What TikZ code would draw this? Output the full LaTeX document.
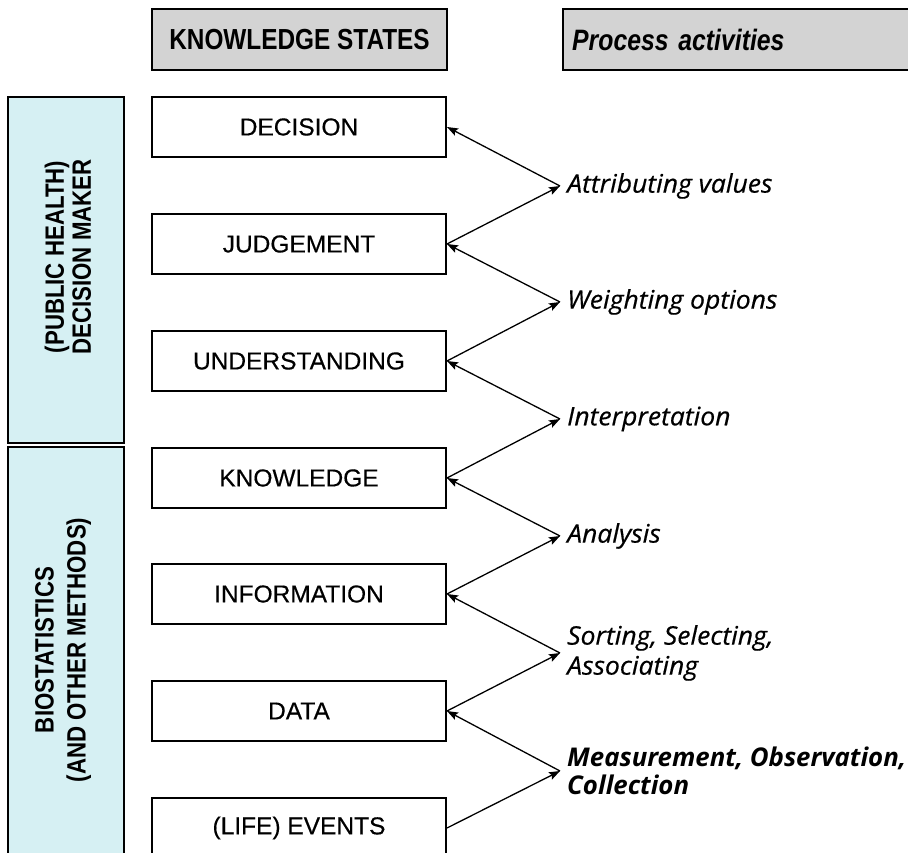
\documentclass[tikz,border=0pt]{standalone}
\usepackage{fontspec}
\setmainfont{Liberation Sans}
\newfontfamily\hdfont[FakeStretch=0.84]{Liberation Sans}
\newfontfamily\stfont[FakeBold=0.4]{Liberation Sans}
\newfontfamily\lbfont[FakeStretch=1.04,FakeBold=0.5]{Open Sans}
\newfontfamily\lbbfont[FakeStretch=1.0]{Open Sans}
\usetikzlibrary{arrows.meta}
\definecolor{hdgray}{HTML}{D3D3D3}
\definecolor{barcyan}{HTML}{D6F0F3}
\tikzset{
  header/.style={draw=black, line width=2.4pt, fill=hdgray, minimum height=61pt, inner sep=0pt},
  state/.style={draw=black, line width=2pt, fill=white, minimum width=294pt, minimum height=60pt, inner sep=0pt, font=\stfont\fontsize{24.5}{26}\selectfont},
  bar/.style={draw=black, line width=2pt, fill=barcyan, minimum width=116pt, inner sep=0pt},
  bartext/.style={rotate=90, align=center, inner sep=0pt, font=\hdfont\fontsize{26.5}{27}\selectfont\bfseries},
  act/.style={anchor=west, inner xsep=7pt, inner ysep=0pt, align=left, font=\lbfont\itshape\fontsize{25.5}{30}\selectfont},
  conn/.style={line width=1.3pt, -{Stealth[length=11pt,width=8pt,inset=2pt]}},
}
\begin{document}
\begin{tikzpicture}[x=1pt,y=-1pt]
\useasboundingbox (0,0) rectangle (908,853);
\clip (0,0) rectangle (908,853);
% headers
\node[header, minimum width=295pt, font=\hdfont\bfseries\fontsize{29}{32}\selectfont] (ks) at (299.5,39.5) {KNOWLEDGE STATES};
\node[header, anchor=west, minimum width=363pt, text width=345pt, inner xsep=9pt, align=left, font=\hdfont\bfseries\itshape\fontsize{29.5}{32}\selectfont] (pa) at (562,39.5) {Process activities};
% side bars
\node[bar, minimum height=346pt] (pbar) at (66,270) {};
\node[bar, minimum height=423pt] (bbar) at (66,658.5) {};
\node[bartext] (ptext) at (68,257) {(PUBLIC HEALTH)\\DECISION MAKER};
\node[bartext, font=\hdfont\fontsize{26.5}{32}\selectfont\bfseries] (btext) at (63,650) {BIOSTATISTICS\\(AND OTHER METHODS)};
% knowledge states
\node[state] (dec) at (299,127) {DECISION};
\node[state] (jud) at (299,244) {JUDGEMENT};
\node[state] (und) at (299,361) {UNDERSTANDING};
\node[state] (kno) at (299,478) {KNOWLEDGE};
\node[state] (inf) at (299,594) {INFORMATION};
\node[state] (dat) at (299,711) {DATA};
\node[state] (eve) at (299,828) {(LIFE) EVENTS};
% process activities
\node[act] (att) at (560,186) {Attributing values};
\node[act] (wei) at (560,302) {Weighting options};
\node[act] (int) at (560,419) {Interpretation};
\node[act] (ana) at (560,536) {Analysis};
\node[act] (sor) at (560,653) {Sorting, Selecting,\\Associating};
\node[act, font=\lbbfont\bfseries\itshape\fontsize{25.8}{28}\selectfont] (mea) at (560,771) {Measurement, Observation,\\Collection};
% connectors
\draw[conn] (jud.east) -- (att.west);
\draw[conn] (att.west) -- (dec.east);
\draw[conn] (und.east) -- (wei.west);
\draw[conn] (wei.west) -- (jud.east);
\draw[conn] (kno.east) -- (int.west);
\draw[conn] (int.west) -- (und.east);
\draw[conn] (inf.east) -- (ana.west);
\draw[conn] (ana.west) -- (kno.east);
\draw[conn] (dat.east) -- (sor.west);
\draw[conn] (sor.west) -- (inf.east);
\draw[conn] (eve.east) -- (mea.west);
\draw[conn] (mea.west) -- (dat.east);
\end{tikzpicture}
\end{document}
